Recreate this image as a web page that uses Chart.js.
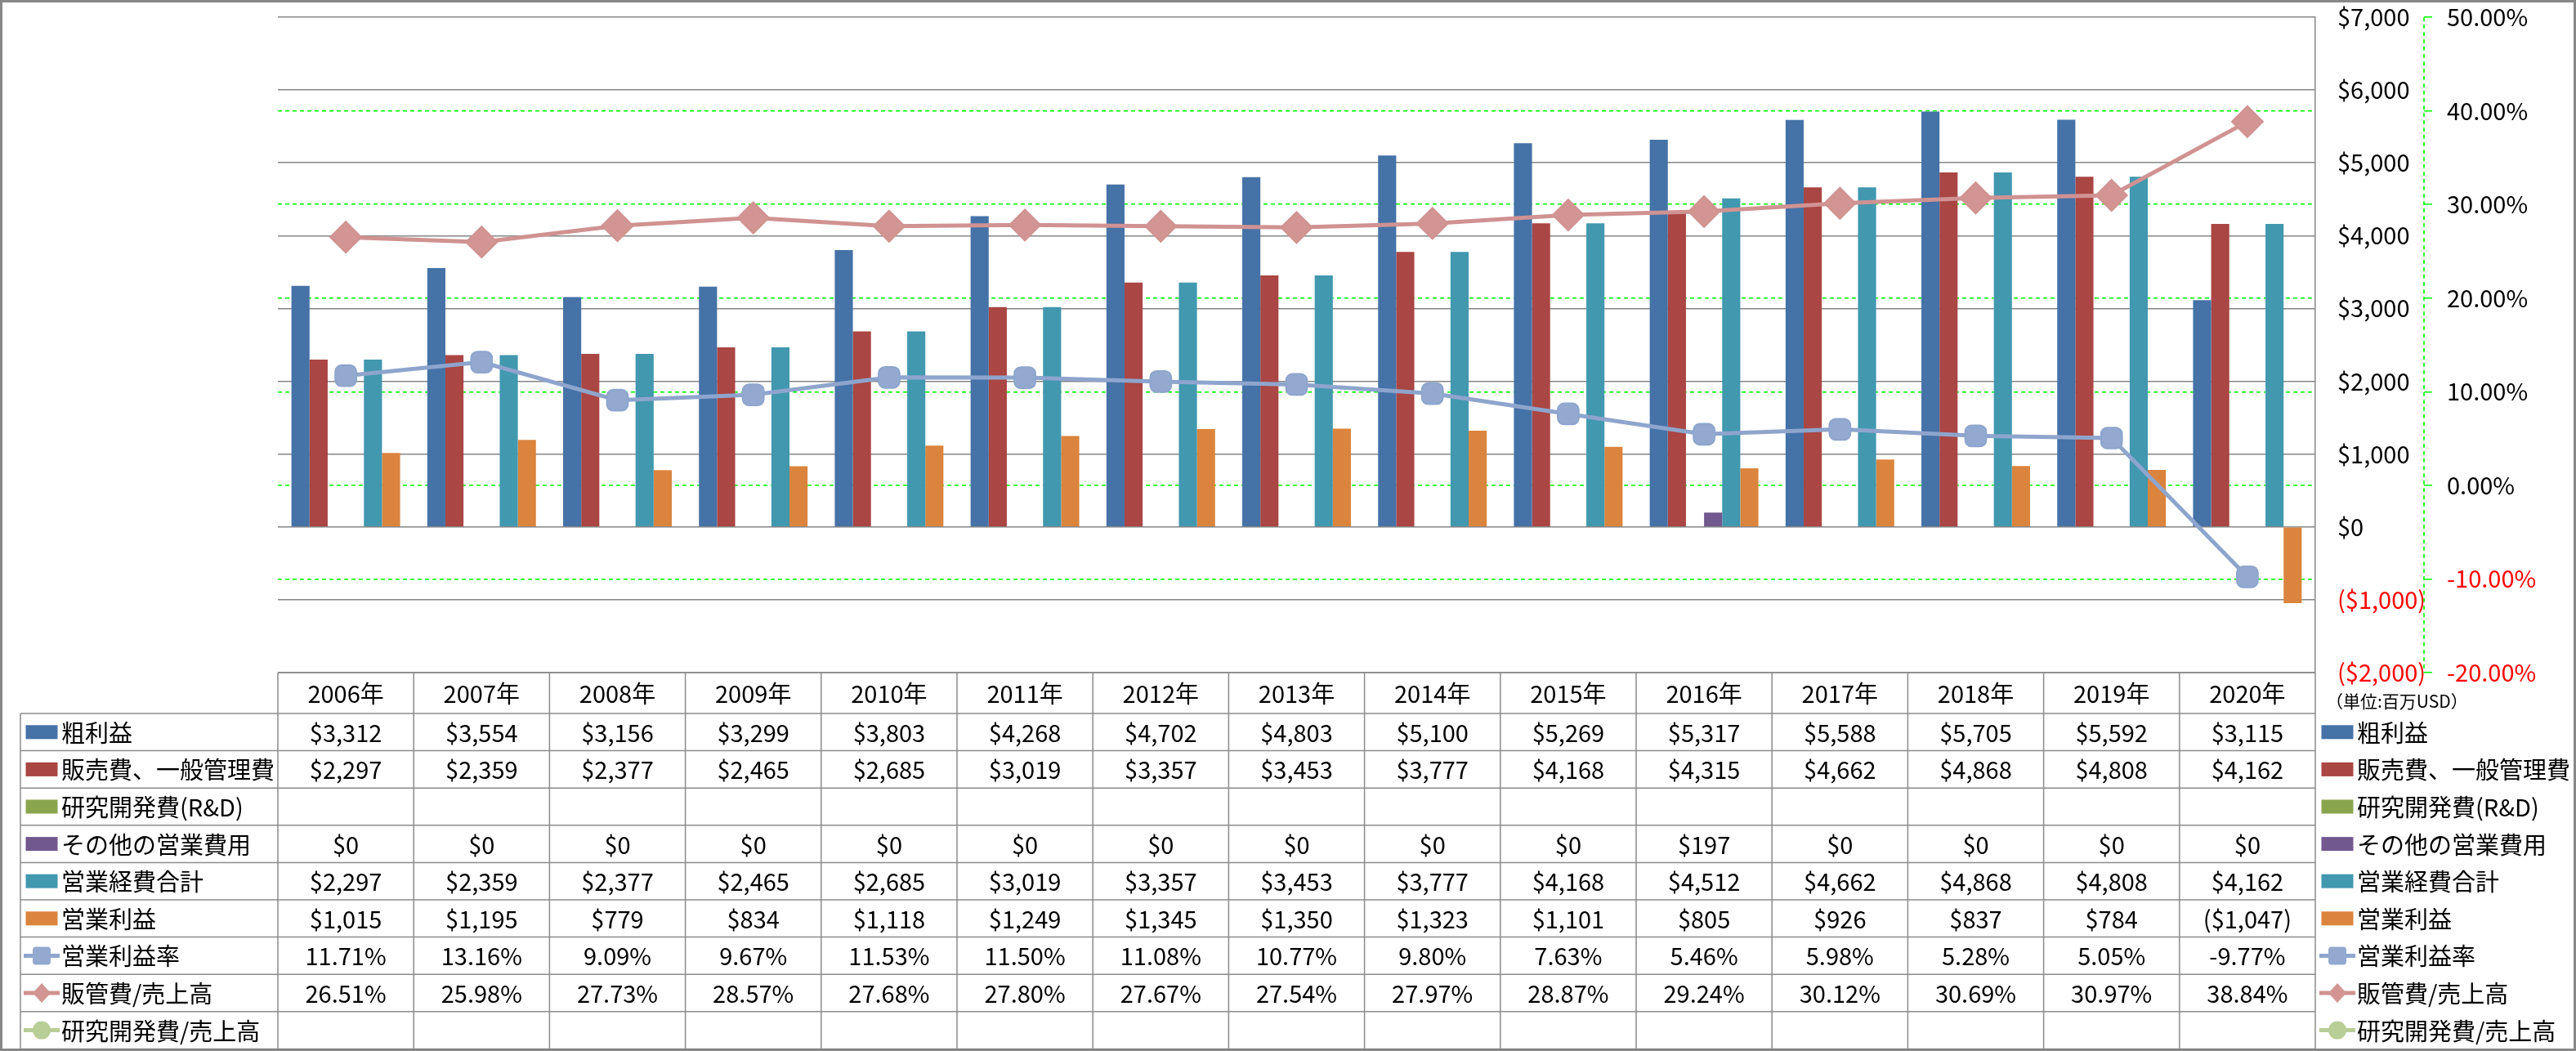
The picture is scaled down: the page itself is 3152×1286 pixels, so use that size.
<!DOCTYPE html>
<html>
<head>
<meta charset="utf-8">
<script src="https://cdn.jsdelivr.net/npm/chart.js@4.4.0/dist/chart.umd.min.js"></script>
<style>
  html, body { margin: 0; padding: 0; background: #fff; }
  canvas { display: block; }
</style>
</head>
<body>
<canvas id="chart" width="3152" height="1286"></canvas>
<script>
// データ (単位: 百万USD)
const years = ['2006年', '2007年', '2008年', '2009年', '2010年', '2011年', '2012年', '2013年', '2014年', '2015年', '2016年', '2017年', '2018年', '2019年', '2020年'];
const grossProfit = [3312, 3554, 3156, 3299, 3803, 4268, 4702, 4803, 5100, 5269, 5317, 5588, 5705, 5592, 3115];
const sgaExpense = [2297, 2359, 2377, 2465, 2685, 3019, 3357, 3453, 3777, 4168, 4315, 4662, 4868, 4808, 4162];
const rdExpense = [null, null, null, null, null, null, null, null, null, null, null, null, null, null, null];
const otherExpense = [0, 0, 0, 0, 0, 0, 0, 0, 0, 0, 197, 0, 0, 0, 0];
const totalExpense = [2297, 2359, 2377, 2465, 2685, 3019, 3357, 3453, 3777, 4168, 4512, 4662, 4868, 4808, 4162];
const operatingIncome = [1015, 1195, 779, 834, 1118, 1249, 1345, 1350, 1323, 1101, 805, 926, 837, 784, -1047];
const operatingMargin = [11.71, 13.16, 9.09, 9.67, 11.53, 11.50, 11.08, 10.77, 9.80, 7.63, 5.46, 5.98, 5.28, 5.05, -9.77];
const sgaRatio = [26.51, 25.98, 27.73, 28.57, 27.68, 27.80, 27.67, 27.54, 27.97, 28.87, 29.24, 30.12, 30.69, 30.97, 38.84];
const rdRatio = [null, null, null, null, null, null, null, null, null, null, null, null, null, null, null];

const FONT = '"Noto Sans CJK JP", "Liberation Sans", sans-serif';
Chart.defaults.font.family = FONT;
Chart.defaults.color = '#000';

function fmtMoney(v) {
  if (v === null) return '';
  const s = '$' + Math.abs(v).toLocaleString('en-US');
  return v < 0 ? '(' + s + ')' : s;
}
function fmtPct(v) {
  if (v === null) return '';
  return v.toFixed(2) + '%';
}

// 表の行 (凡例つき)
const rows = [
  { label: '粗利益', data: grossProfit, kind: 'money', type: 'bar', color: '#4572A7' },
  { label: '販売費、一般管理費', data: sgaExpense, kind: 'money', type: 'bar', color: '#AA4643' },
  { label: '研究開発費(R&D)', data: rdExpense, kind: 'money', type: 'bar', color: '#89A54E' },
  { label: 'その他の営業費用', data: otherExpense, kind: 'money', type: 'bar', color: '#71588F' },
  { label: '営業経費合計', data: totalExpense, kind: 'money', type: 'bar', color: '#4198AF' },
  { label: '営業利益', data: operatingIncome, kind: 'money', type: 'bar', color: '#DB843D' },
  { label: '営業利益率', data: operatingMargin, kind: 'pct', type: 'line', color: '#8EA5CD', fill: '#93A9D0', style: 'rectRounded', radius: 15 },
  { label: '販管費/売上高', data: sgaRatio, kind: 'pct', type: 'line', color: '#D09292', fill: '#D39594', style: 'rectRot', radius: 19 },
  { label: '研究開発費/売上高', data: rdRatio, kind: 'pct', type: 'line', color: '#B9CD96', fill: '#B9CD96', style: 'circle', radius: 13 }
];

const datasets = rows.map(r => r.type === 'bar' ? {
  type: 'bar',
  label: r.label,
  data: r.data,
  backgroundColor: r.color,
  yAxisID: 'y',
  order: 1,
  barPercentage: 1.0,
  categoryPercentage: 0.8
} : {
  type: 'line',
  label: r.label,
  data: r.data,
  borderColor: r.color,
  borderWidth: 5,
  pointStyle: r.style,
  pointRadius: r.radius,
  pointBackgroundColor: r.fill,
  pointBorderColor: r.color,
  pointBorderWidth: 2,
  tension: 0,
  yAxisID: 'y1',
  order: 0
});

// 凡例マーカー
function drawKey(ctx, r, cx, cy) {
  ctx.save();
  if (r.type === 'bar') {
    ctx.fillStyle = r.color;
    ctx.fillRect(cx - 19.5, cy - 8.5, 39, 17);
  } else {
    ctx.strokeStyle = r.color;
    ctx.lineWidth = 5;
    ctx.beginPath();
    ctx.moveTo(cx - 22, cy);
    ctx.lineTo(cx + 22, cy);
    ctx.stroke();
    ctx.fillStyle = r.fill;
    ctx.beginPath();
    if (r.style === 'rectRounded') {
      ctx.roundRect(cx - 11, cy - 11, 22, 22, 4);
    } else if (r.style === 'rectRot') {
      ctx.moveTo(cx, cy - 12);
      ctx.lineTo(cx + 11, cy);
      ctx.lineTo(cx, cy + 12);
      ctx.lineTo(cx - 11, cy);
      ctx.closePath();
    } else {
      ctx.arc(cx, cy, 11, 0, Math.PI * 2);
    }
    ctx.fill();
  }
  ctx.restore();
}

// データテーブル + 枠線
const tablePlugin = {
  id: 'dataTable',
  afterDraw(chart) {
    const { ctx, chartArea } = chart;
    const x = chart.scales.x;
    const slot = x.getPixelForValue(1) - x.getPixelForValue(0);
    const left = chartArea.left, right = chartArea.right;
    const headTop = chartArea.bottom;
    const headBot = headTop + 50;
    const rowH = 45.6;
    const bottom = headBot + rows.length * rowH;
    const lineC = '#8C8C8C';

    ctx.save();
    // y1軸 (緑の破線)
    const y1 = chart.scales.y1;
    ctx.strokeStyle = '#00FF00';
    ctx.lineWidth = 1.5;
    ctx.setLineDash([5, 4]);
    ctx.beginPath();
    ctx.moveTo(y1.left, y1.top);
    ctx.lineTo(y1.left, y1.bottom);
    ctx.stroke();
    ctx.setLineDash([]);

    // 罫線
    ctx.strokeStyle = lineC;
    ctx.lineWidth = 1.5;
    ctx.beginPath();
    ctx.moveTo(left, headTop); ctx.lineTo(right, headTop);
    for (let k = 0; k <= rows.length; k++) {
      const yy = headBot + k * rowH;
      ctx.moveTo(25, yy); ctx.lineTo(right, yy);
    }
    for (let i = 0; i <= years.length; i++) {
      const xx = x.getPixelForValue(i) - slot / 2;
      ctx.moveTo(xx, headTop); ctx.lineTo(xx, bottom);
    }
    ctx.moveTo(right, headTop); ctx.lineTo(right, bottom);
    ctx.moveTo(25, headBot); ctx.lineTo(25, bottom);
    ctx.stroke();

    // 見出し
    ctx.fillStyle = '#000';
    ctx.font = '29px ' + FONT;
    ctx.textAlign = 'center';
    ctx.textBaseline = 'middle';
    years.forEach((yr, i) => ctx.fillText(yr, x.getPixelForValue(i), (headTop + headBot) / 2 + 1));

    // 行
    rows.forEach((r, k) => {
      const cy = headBot + k * rowH + rowH / 2;
      ctx.textAlign = 'center';
      r.data.forEach((v, i) => {
        const txt = r.kind === 'money' ? fmtMoney(v) : fmtPct(v);
        ctx.fillText(txt, x.getPixelForValue(i), cy + 1);
      });
      drawKey(ctx, r, 51, cy);
      drawKey(ctx, r, 2860, cy);
      ctx.textAlign = 'left';
      ctx.fillText(r.label, 75, cy + 1);
      ctx.fillText(r.label, 2884, cy + 1);
    });

    // 単位
    ctx.font = '21px ' + FONT;
    ctx.textAlign = 'left';
    ctx.fillText('（単位:百万USD）', 2846, headTop + 35);

    // 外枠
    ctx.strokeStyle = '#878787';
    ctx.lineWidth = 3;
    ctx.strokeRect(1.5, 1.5, chart.width - 3, chart.height - 3);
    ctx.restore();
  }
};

const ctx = document.getElementById('chart').getContext('2d');
const myChart = new Chart(ctx, {
  data: { labels: years, datasets: datasets },
  options: {
    responsive: false,
    animation: false,
    devicePixelRatio: 1,
    layout: { padding: { left: 340, top: 19, right: 26, bottom: 463 } },
    plugins: { legend: { display: false }, tooltip: { enabled: false } },
    scales: {
      x: { display: false, offset: true },
      y: {
        position: 'right',
        weight: 0,
        min: -2000,
        max: 7000,
        ticks: {
          stepSize: 1000,
          padding: 27,
          font: { size: 29 },
          color: c => c.tick.value < 0 ? '#FF0000' : '#000000',
          callback: v => fmtMoney(v)
        },
        grid: { color: '#868686', lineWidth: 1.5, drawTicks: false },
        border: { display: true, color: '#868686', width: 1.5 },
        afterFit: s => { s.width = 133; s.paddingTop = 0; s.paddingBottom = 0; }
      },
      y1: {
        position: 'right',
        weight: 1,
        min: -20,
        max: 50,
        ticks: {
          stepSize: 10,
          padding: 18,
          font: { size: 29 },
          color: c => c.tick.value < 0 ? '#FF0000' : '#000000',
          callback: v => fmtPct(v)
        },
        grid: {
          z: -1,
          color: c => (c.tick && (c.tick.value === 50 || c.tick.value === -20)) ? 'rgba(0,0,0,0)' : '#00FF00',
          lineWidth: 1.5,
          drawTicks: true,
          tickLength: 10,
          tickColor: '#00FF00',
          tickWidth: 1.5
        },
        border: { display: false, dash: [5, 4] },
        afterFit: s => { s.width = 160; s.paddingTop = 0; s.paddingBottom = 0; }
      }
    }
  },
  plugins: [tablePlugin]
});
</script>
</body>
</html>
